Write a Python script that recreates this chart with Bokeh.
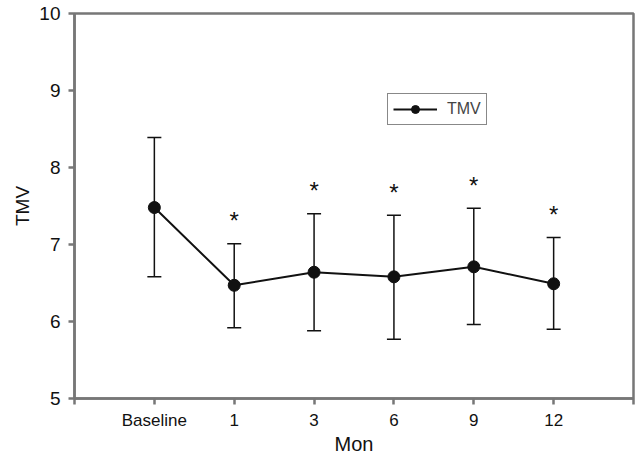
from bokeh.plotting import figure
from bokeh.models import ColumnDataSource, Whisker, TeeHead, FixedTicker, Legend, LegendItem
from bokeh.core.properties import value
from bokeh.embed import file_html
from bokeh.resources import INLINE

categories = ["Baseline", "1", "3", "6", "9", "12"]
means = [7.48, 6.47, 6.64, 6.58, 6.71, 6.49]
upper = [8.39, 7.01, 7.40, 7.38, 7.47, 7.09]
lower = [6.58, 5.92, 5.88, 5.77, 5.96, 5.90]
significant = [False, True, True, True, True, True]
y_ticks = [5, 6, 7, 8, 9, 10]

xs = list(range(len(categories)))
FONT = "Liberation Sans"
AXIS_COLOR = "#777777"

p = figure(width=636, height=457, x_range=(-1, 6), y_range=(5, 10),
           output_backend="svg", toolbar_location=None,
           min_border_left=74, min_border_top=13, min_border_right=3, min_border_bottom=59)
p.grid.visible = False
p.outline_line_color = AXIS_COLOR
p.outline_line_width = 2.5

src = ColumnDataSource(dict(x=xs, y=means, up=upper, lo=lower))
w = Whisker(base="x", upper="up", lower="lo", source=src, line_color="#111111", line_width=1.5,
            upper_head=TeeHead(size=14, line_color="#111111", line_width=1.5),
            lower_head=TeeHead(size=14, line_color="#111111", line_width=1.5))
p.add_layout(w)

ln = p.line("x", "y", source=src, line_color="#111111", line_width=2)
sc = p.scatter("x", "y", source=src, size=12, fill_color="#111111", line_color="#111111")

sx = [x for x, s in zip(xs, significant) if s]
sy = [u + 0.30 for u, s in zip(upper, significant) if s]
p.text(x=sx, y=sy, text=["*"] * len(sx), text_align="center", text_baseline="middle",
       text_font=value(FONT), text_font_size="24px", text_color="#111111")

legend = Legend(items=[LegendItem(label="TMV", renderers=[ln, sc])], location=(313, 273))
legend.border_line_color = "#111111"
legend.border_line_width = 1.2
legend.label_text_font = FONT
legend.label_text_font_size = "16px"
legend.glyph_width = 44
legend.padding = 5
legend.margin = 0
legend.label_standoff = 10
legend.background_fill_alpha = 1
p.add_layout(legend)

labels = {-1: "", 6: ""}
for x, c in zip(xs, categories):
    labels[x] = c

for ax in (p.xaxis[0], p.yaxis[0]):
    ax.axis_line_color = AXIS_COLOR
    ax.axis_line_width = 2.5
    ax.major_tick_line_color = AXIS_COLOR
    ax.major_tick_line_width = 2.5
    ax.major_tick_out = 6
    ax.major_tick_in = 0
    ax.minor_tick_line_color = None
    ax.major_label_text_font = FONT
    ax.major_label_text_color = "#111111"
    ax.axis_label_text_font = FONT
    ax.axis_label_text_font_style = "normal"
    ax.axis_label_text_color = "#111111"

p.xaxis.ticker = FixedTicker(ticks=[-1] + xs + [6])
p.xaxis.major_label_overrides = labels
p.xaxis.major_label_text_font_size = "17px"
p.xaxis.major_label_standoff = 6
p.xaxis.axis_label = "Mon"
p.xaxis.axis_label_text_font_size = "20px"
p.xaxis.axis_label_standoff = 0

p.yaxis.ticker = FixedTicker(ticks=y_ticks)
p.yaxis.major_label_text_font_size = "19px"
p.yaxis.major_label_standoff = 8
p.yaxis.axis_label = "TMV"
p.yaxis.axis_label_text_font_size = "19px"
p.yaxis.axis_label_standoff = 3

open("out.html", "w").write(file_html(p, INLINE))
